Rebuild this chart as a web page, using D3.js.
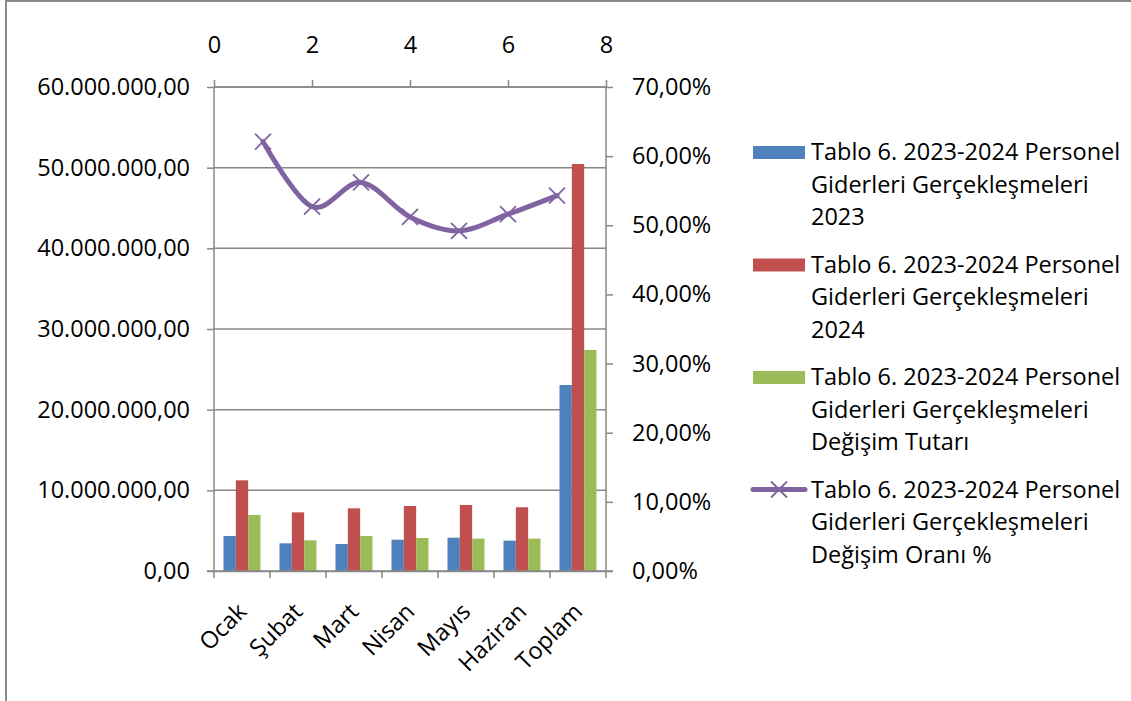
<!DOCTYPE html>
<html><head><meta charset="utf-8">
<script src="https://cdn.jsdelivr.net/npm/d3@7"></script>
<style>html,body{margin:0;padding:0;background:#fff;}svg{display:block;}</style>
</head><body>
<svg id="c" width="1131" height="701"></svg>
<script>
const categories = ["Ocak","Şubat","Mart","Nisan","Mayıs","Haziran","Toplam"];
const values2023 = [4340000, 3430000, 3350000, 3880000, 4130000, 3760000, 23060000];
const values2024 = [11240000, 7270000, 7770000, 8060000, 8180000, 7900000, 50450000];
const valuesDiff = [6940000, 3800000, 4340000, 4090000, 4010000, 4010000, 27400000];
const ratePct = [62.1, 52.7, 56.2, 51.2, 49.2, 51.6, 54.3];
const leftTicks = [0,10e6,20e6,30e6,40e6,50e6,60e6];
const rightTicks = [0,10,20,30,40,50,60,70];
const topTicks = [0,2,4,6,8];
const seriesNames = [
 ["Tablo 6. 2023-2024 Personel","Giderleri Gerçekleşmeleri","2023"],
 ["Tablo 6. 2023-2024 Personel","Giderleri Gerçekleşmeleri","2024"],
 ["Tablo 6. 2023-2024 Personel","Giderleri Gerçekleşmeleri","Değişim Tutarı"],
 ["Tablo 6. 2023-2024 Personel","Giderleri Gerçekleşmeleri","Değişim Oranı %"]
];
const colors = ["#4F81BD","#C0504D","#9BBB59","#8064A2"];

const svg = d3.select("#c");
const FONT = "'Open Sans', sans-serif";
const FS = 23.5;
const L = 214, R = 606, T = 87, B = 571;
const gridColor = "#878787";

// frame
svg.append("line").attr("x1",6).attr("x2",1131).attr("y1",1).attr("y2",1).attr("stroke","#8a8a8a").attr("stroke-width",2);
svg.append("line").attr("x1",6).attr("x2",6).attr("y1",0).attr("y2",701).attr("stroke","#8a8a8a").attr("stroke-width",2);

const yL = d3.scaleLinear().domain([0,60e6]).range([B,T]);
const yR = d3.scaleLinear().domain([0,70]).range([B,T]);
const xTop = d3.scaleLinear().domain([0,8]).range([L,R]);
const xBand = d3.scaleBand().domain(categories).range([L,R]).paddingInner(0).paddingOuter(0);
const sub = d3.scaleBand().domain([0,1,2]).range([0,37]);

const fmtL = v => {
  const s = d3.format(",.2f")(v);
  return s.replace(/,/g,"#").replace(".",",").replace(/#/g,".");
};
const fmtR = v => d3.format(".2f")(v).replace(".",",") + "%";

// gridlines
svg.append("g").selectAll("line").data(leftTicks.slice(1)).join("line")
  .attr("x1",L).attr("x2",R).attr("y1",d=>yL(d)).attr("y2",d=>yL(d))
  .attr("stroke",gridColor).attr("stroke-width",1.5);

// bars
const series = [values2023, values2024, valuesDiff];
series.forEach((vals,si)=>{
  svg.append("g").selectAll("rect").data(vals).join("rect")
    .attr("x",(d,i)=>xBand(categories[i]) + (xBand.bandwidth()-37)/2 + sub(si))
    .attr("width",sub.bandwidth())
    .attr("y",d=>yL(d)).attr("height",d=>B-yL(d))
    .attr("fill",colors[si]);
});

// left axis
const gL = svg.append("g").attr("transform",`translate(${L},0)`)
  .call(d3.axisLeft(yL).tickValues(leftTicks).tickFormat(fmtL).tickSize(7).tickPadding(17));
// right axis
const gR = svg.append("g").attr("transform",`translate(${R},0)`)
  .call(d3.axisRight(yR).tickValues(rightTicks).tickFormat(fmtR).tickSize(7).tickPadding(19));
// top axis
const gT = svg.append("g").attr("transform",`translate(0,${T})`)
  .call(d3.axisTop(xTop).tickValues(topTicks).tickFormat(d3.format("d")).tickSize(7).tickPadding(27));
// bottom axis
const gB = svg.append("g").attr("transform",`translate(0,${B})`)
  .call(d3.axisBottom(xBand).tickValues([]).tickSizeOuter(0));
gB.selectAll(".tick").remove();
gB.append("g").selectAll("line").data(d3.range(categories.length+1)).join("line")
  .attr("x1",i=>L + i*xBand.step()).attr("x2",i=>L + i*xBand.step())
  .attr("y1",0).attr("y2",7).attr("stroke",gridColor).attr("stroke-width",1.5);
gB.append("line").attr("x1",L-7).attr("x2",R+7).attr("y1",0).attr("y2",0).attr("stroke",gridColor).attr("stroke-width",1.5);
gB.selectAll("text.cat").data(categories).join("text").attr("class","cat")
  .attr("transform",d=>`translate(${xBand(d)+xBand.bandwidth()/2+6},${42}) rotate(-45)`)
  .attr("text-anchor","end")
  .attr("font-family",FONT).attr("font-size",FS).attr("fill","#000").text(d=>d);

[gL,gR,gT,gB].forEach(g=>{
  g.selectAll(".domain").attr("stroke",gridColor).attr("stroke-width",1.5);
  g.selectAll(".tick line").attr("stroke",gridColor).attr("stroke-width",1.5);
  g.selectAll(".tick text").attr("font-family",FONT).attr("font-size",FS).attr("fill","#000");
});
gT.selectAll(".domain").attr("d",`M${L},0H${R}`);
gL.selectAll(".domain").attr("d",`M0,${T}V${B}`);
gR.selectAll(".domain").attr("d",`M0,${T}V${B}`);

// line
const pts = ratePct.map((v,i)=>[xTop(i+1), yR(v)]);
svg.append("path").attr("d",d3.line().curve(d3.curveCatmullRom.alpha(0))(pts))
  .attr("fill","none").attr("stroke",colors[3]).attr("stroke-width",5).attr("stroke-linecap","round");
const m = 8;
svg.append("g").selectAll("path").data(pts).join("path")
  .attr("d",p=>`M${p[0]-m},${p[1]-m}L${p[0]+m},${p[1]+m}M${p[0]-m},${p[1]+m}L${p[0]+m},${p[1]-m}`)
  .attr("stroke",colors[3]).attr("stroke-width",1.8).attr("fill","none");

// legend
const LX = 753, TX = 811, base0 = 160, step = 112.5, lh = 32.5;
seriesNames.forEach((lines,i)=>{
  const b = base0 + i*step;
  if(i<3){
    svg.append("rect").attr("x",LX).attr("y",b-14).attr("width",52).attr("height",13).attr("fill",colors[i]);
  } else {
    svg.append("line").attr("x1",LX).attr("x2",LX+52).attr("y1",b-8).attr("y2",b-8).attr("stroke",colors[3]).attr("stroke-width",5).attr("stroke-linecap","round");
    const cx = LX+26, cy=b-8;
    svg.append("path").attr("d",`M${cx-m},${cy-m}L${cx+m},${cy+m}M${cx-m},${cy+m}L${cx+m},${cy-m}`).attr("stroke",colors[3]).attr("stroke-width",1.8);
  }
  const t = svg.append("text").attr("x",TX).attr("y",b).attr("font-family",FONT).attr("font-size",FS).attr("fill","#000");
  lines.forEach((ln,j)=>t.append("tspan").attr("x",TX).attr("y",b+j*lh).text(ln));
});
</script>
</body></html>
